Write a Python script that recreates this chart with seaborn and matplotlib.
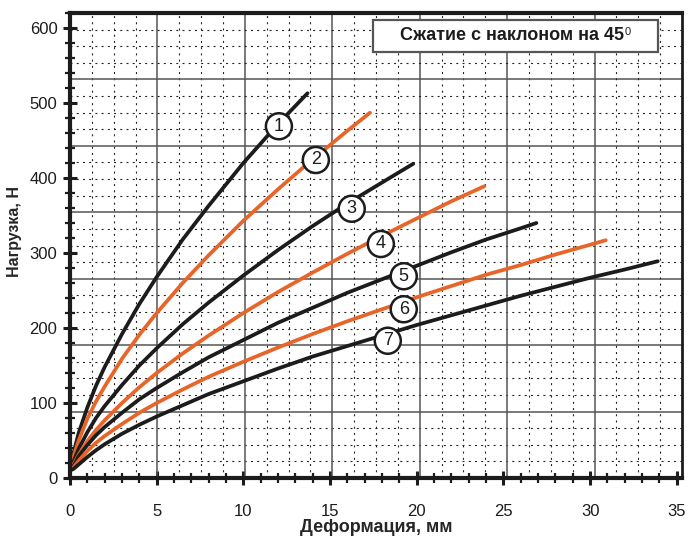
import numpy as np
import pandas as pd
import matplotlib
matplotlib.use("Agg")
import matplotlib.pyplot as plt
from matplotlib.patches import Rectangle
import seaborn as sns

# ---- data ----
x1 = [0, 0.2, 0.5, 1, 1.5, 2, 3, 4, 5, 6.5, 8, 10, 12, 13.7]
y1 = [10, 33, 60, 94, 123, 148, 192, 232, 268, 318, 363, 420, 472, 513]
x2 = [0, 0.2, 0.5, 1, 1.5, 2, 3, 4, 5, 6.5, 8, 10, 12, 14, 16, 17.3]
y2 = [10, 28, 50, 79, 102, 122, 159, 191, 220, 260, 297, 343, 385, 425, 463, 487]
x3 = [0, 0.2, 0.5, 1, 1.5, 2, 3, 4, 5, 6.5, 8, 10, 12, 14, 16, 18, 19.8]
y3 = [10, 22, 39, 61, 80, 96, 124, 150, 173, 205, 234, 270, 304, 336, 366, 394, 419]
x4 = [0, 0.2, 0.5, 1, 1.5, 2, 3, 4, 5, 6.5, 8, 10, 12, 14, 16, 18, 20, 22, 23.9]
y4 = [10, 18, 31, 49, 64, 77, 100, 121, 140, 166, 190, 220, 248, 274, 299, 323, 346,
      369, 389]
x5 = [0, 0.2, 0.5, 1, 1.5, 2, 3, 4, 5, 6.5, 8, 10, 12, 14, 16, 18, 20, 22, 24, 26, 26.9]
y5 = [10, 16, 29, 44, 57, 68, 87, 105, 120, 141, 161, 184, 207, 227, 247, 265, 283,
      301, 318, 333, 340]
x6 = [0, 0.2, 0.5, 1, 1.5, 2, 3, 4, 5, 6.5, 8, 10, 12, 14, 16, 18, 20, 22, 24, 26, 28,
      30, 30.9]
y6 = [10, 14, 23, 36, 47, 56, 72, 87, 100, 118, 135, 155, 174, 192, 209, 225, 241, 256,
      271, 284, 298, 311, 317]
x7 = [0, 0.2, 0.5, 1, 1.5, 2, 3, 4, 5, 6.5, 8, 10, 12, 14, 16, 18, 20, 22, 24, 26, 28,
      30, 32, 33.9]
y7 = [10, 12, 18, 28, 37, 45, 59, 71, 82, 97, 112, 129, 146, 162, 176, 190, 204, 217,
      230, 243, 255, 267, 278, 289]

curve_names = ["1", "2", "3", "4", "5", "6", "7"]
label_x = [12.05, 14.18, 16.25, 17.93, 19.25, 19.25, 18.33]
label_y = [469, 424, 359, 312, 269, 225, 183]

x_ticks = [0, 5, 10, 15, 20, 25, 30, 35]
y_ticks = [0, 100, 200, 300, 400, 500, 600]
title_text = "Сжатие с наклоном на 45"
title_sup = "0"
x_label = "Деформация, мм"
y_label = "Нагрузка, Н"

BLACK = "#1c1c1c"
ORANGE = "#e8652a"
palette = {"1": BLACK, "2": ORANGE, "3": BLACK, "4": ORANGE,
           "5": BLACK, "6": ORANGE, "7": BLACK}

frames = []
for name, xs, ys in zip(curve_names, [x1, x2, x3, x4, x5, x6, x7],
                        [y1, y2, y3, y4, y5, y6, y7]):
    frames.append(pd.DataFrame({"x": xs, "y": ys, "curve": name}))
df = pd.concat(frames, ignore_index=True)

sns.set_theme(style="white")
plt.rcParams["font.family"] = ["Liberation Sans", "DejaVu Sans"]

fig = plt.figure(figsize=(6.88, 5.36), dpi=100)
ax = fig.add_axes([70 / 688, 58 / 536, 612 / 688, 465 / 536])

# grid in axes fraction (independent of data ticks, as in the reference)
for k in range(1, 28):
    f = k / 28
    if k % 4 == 0:
        ax.plot([f, f], [0, 1], transform=ax.transAxes, color="#555555", lw=1.1, zorder=1)
        ax.plot([0, 1], [f, f], transform=ax.transAxes, color="#555555", lw=1.1, zorder=1)
    else:
        ax.plot([f, f], [0, 1], transform=ax.transAxes, color="#222222", lw=0.8,
                ls=(0, (1.8, 3.8)), zorder=1)
        ax.plot([0, 1], [f, f], transform=ax.transAxes, color="#222222", lw=0.8,
                ls=(0, (1.8, 3.8)), zorder=1)

sns.lineplot(data=df, x="x", y="y", hue="curve", palette=palette, sort=False,
             estimator=None, linewidth=2.7, legend=False, ax=ax, zorder=3)

for name, lx, ly in zip(curve_names, label_x, label_y):
    ax.text(lx, ly, name, ha="center", va="center", fontsize=13, color="#1c1c1c",
            zorder=5,
            bbox=dict(boxstyle="circle,pad=0.25", fc="white", ec="#1c1c1c", lw=1.8))

ax.set_xlim(0, 35.3)
ax.set_ylim(0, 620)
ax.set_xticks(x_ticks)
ax.set_yticks(y_ticks)
ax.set_xticks(np.arange(0, 36, 1), minor=True)
ax.set_yticks(np.arange(0, 621, 20), minor=True)
ax.tick_params(axis="both", which="major", direction="inout", length=10, width=2.2,
               labelsize=12, color="#1c1c1c", labelcolor="#1c1c1c")
ax.tick_params(axis="both", which="minor", direction="inout", length=7, width=1.6,
               color="#1c1c1c")
ax.tick_params(axis="x", which="major", pad=14)
ax.tick_params(axis="y", which="major", pad=4)
ax.tick_params(left=True, bottom=True, which="both")

for side, w in [("left", 3.0), ("bottom", 3.0), ("top", 3.0), ("right", 2.0)]:
    ax.spines[side].set_visible(True)
    ax.spines[side].set_linewidth(w)
    ax.spines[side].set_color("#1c1c1c")
    ax.spines[side].set_zorder(6)

ax.set_xlabel(x_label, fontsize=13, fontweight="bold", labelpad=0)
ax.set_ylabel(y_label, fontsize=11.5, fontweight="bold")
ax.yaxis.set_label_coords(-0.079, 0.53)

# title box
ax.add_patch(Rectangle((0.495, 0.916), 0.466, 0.069, transform=ax.transAxes,
                       fc="white", ec="#555555", lw=1.6, zorder=4))
t = ax.text(0.722, 0.951, title_text, transform=ax.transAxes,
            ha="center", va="center", fontsize=13, fontweight="bold", color="#1c1c1c",
            zorder=5)
ax.annotate(title_sup, xy=(1.0, 1.0), xycoords=t, xytext=(0.5, 0.5),
            textcoords="offset points", ha="left", va="top", fontsize=8,
            color="#1c1c1c", zorder=5)

fig.savefig("out.png", dpi=100)
